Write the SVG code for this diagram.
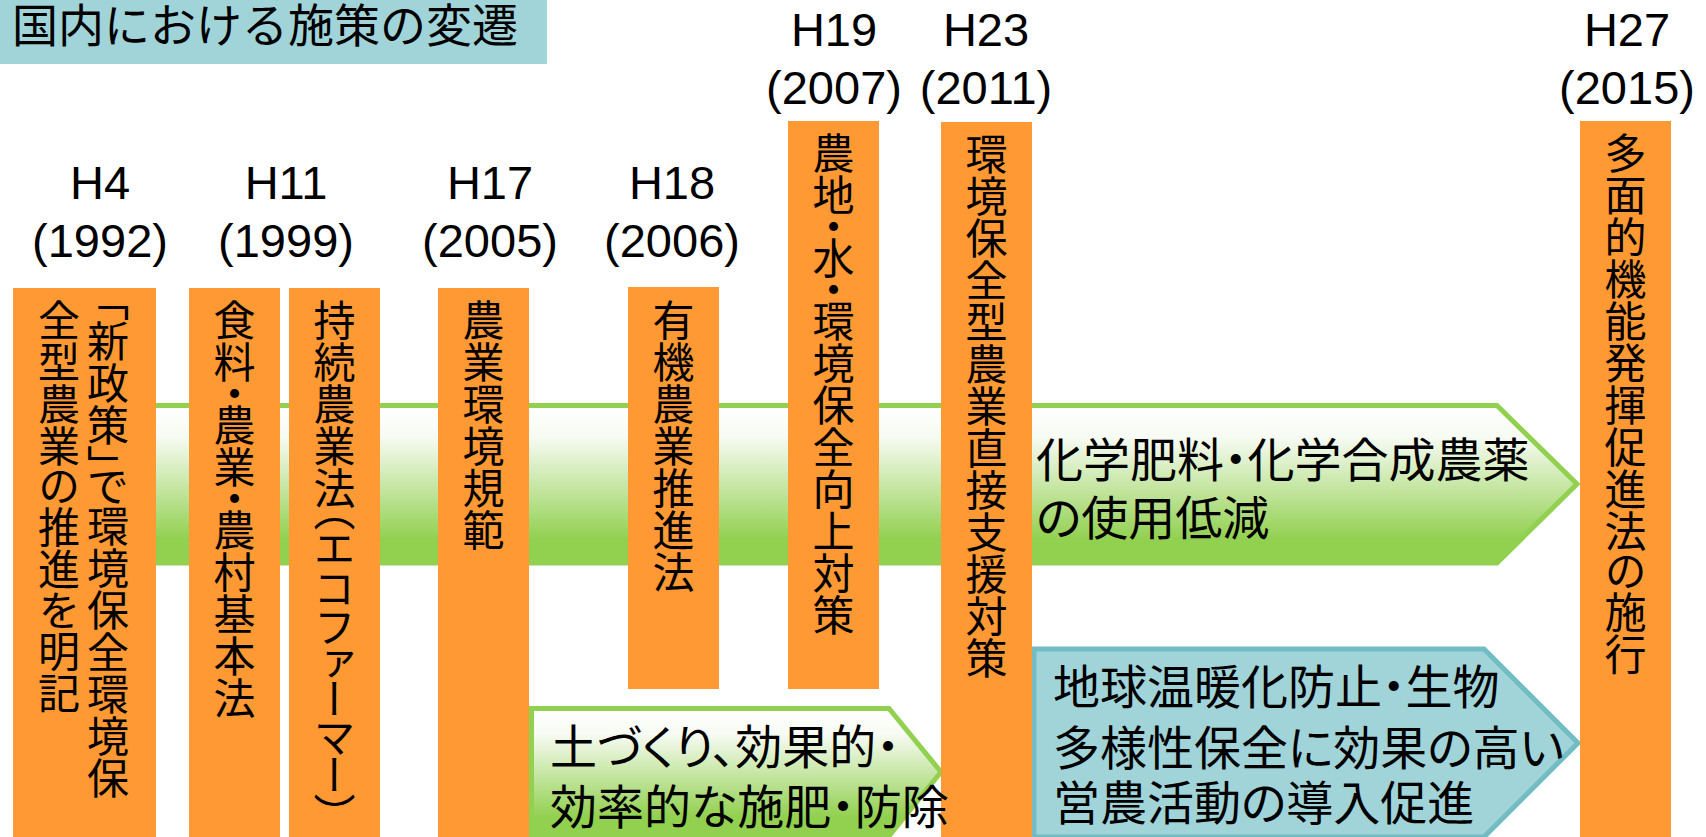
<svg xmlns="http://www.w3.org/2000/svg" width="1706" height="837" viewBox="0 0 1706 837">
<style>
.lbl{font-family:"Liberation Sans",Arial,sans-serif;font-size:47px;fill:#000;text-anchor:middle}
.box{fill:#FF9933}
.vt{font-family:"Noto Sans CJK JP","Noto Sans CJK SC",sans-serif;font-size:42px;fill:#000;writing-mode:vertical-rl;font-feature-settings:"vpal"}
.ht{font-family:"Noto Sans CJK JP","Noto Sans CJK SC",sans-serif;font-size:47px;fill:#000;font-feature-settings:"palt"}
.garrow{fill:url(#gg);stroke:#92D050;stroke-width:5}
.barrow{fill:#A0D4D9;stroke:#72BCC4;stroke-width:5}
</style>
<defs>
<linearGradient id="gg" x1="0" y1="0" x2="0" y2="1">
<stop offset="0" stop-color="#FFFFFF"/>
<stop offset="0.2" stop-color="#F7FBF3"/>
<stop offset="0.85" stop-color="#92D050"/>
<stop offset="1" stop-color="#92D050"/>
</linearGradient>
</defs>
<g id="title">
<rect x="0" y="0" width="547" height="64" fill="#A0D4D9"/>
<text x="12" y="42" style="font-family:'Noto Sans CJK JP','Noto Sans CJK SC',sans-serif;font-size:46px">国内における施策の変遷</text>
</g>
<g id="connectors">
<path id="arrow-reduce" class="garrow" d="M20,405.5 H1497 L1577,484 L1497,563 H20 Z"/>
<path id="arrow-soil" class="garrow" d="M531.5,708.5 H889 L941,772 L889,836 H531.5 Z"/>
<path id="arrow-climate" class="barrow" d="M1034,649 H1484 L1578,743 L1484,837 H1034 Z"/>
</g>
<g id="labels">
<text class="lbl" x="100" y="199">H4</text><text class="lbl" x="100" y="257">(1992)</text>
<text class="lbl" x="286" y="199">H11</text><text class="lbl" x="286" y="257">(1999)</text>
<text class="lbl" x="490" y="199">H17</text><text class="lbl" x="490" y="257">(2005)</text>
<text class="lbl" x="672" y="199">H18</text><text class="lbl" x="672" y="257">(2006)</text>
<text class="lbl" x="834" y="46">H19</text><text class="lbl" x="834" y="104">(2007)</text>
<text class="lbl" x="986" y="46">H23</text><text class="lbl" x="986" y="104">(2011)</text>
<text class="lbl" x="1627" y="46">H27</text><text class="lbl" x="1627" y="104">(2015)</text>
</g>
<g id="n-h4">
<rect class="box" x="13" y="288" width="143" height="549"/>
<text class="vt"><tspan x="108" y="299">「新政策」で環境保全環境保</tspan><tspan x="59" y="299">全型農業の推進を明記</tspan></text>
</g>
<g id="n-h11a">
<rect class="box" x="189" y="288" width="91" height="549"/>
<text class="vt" x="234.5" y="299">食料・農業・農村基本法</text>
</g>
<g id="n-h11b">
<rect class="box" x="289" y="288" width="91" height="549"/>
<text class="vt" x="334.5" y="299">持続農業法（エコファーマー）</text>
</g>
<g id="n-h17">
<rect class="box" x="438" y="288" width="91" height="549"/>
<text class="vt" x="483.5" y="299">農業環境規範</text>
</g>
<g id="n-h18">
<rect class="box" x="628" y="287" width="91" height="402"/>
<text class="vt" x="673.5" y="299">有機農業推進法</text>
</g>
<g id="n-h19">
<rect class="box" x="788" y="121" width="91" height="568"/>
<text class="vt" x="833.5" y="132">農地・水・環境保全向上対策</text>
</g>
<g id="n-h23">
<rect class="box" x="941" y="122" width="91" height="715"/>
<text class="vt" x="986.5" y="133">環境保全型農業直接支援対策</text>
</g>
<g id="n-h27">
<rect class="box" x="1580" y="121" width="91" height="716"/>
<text class="vt" x="1625.5" y="132">多面的機能発揮促進法の施行</text>
</g>
<g id="arrow-texts">
<text class="ht"><tspan x="1036" y="477">化学肥料・化学合成農薬</tspan><tspan x="1036" y="535">の使用低減</tspan></text>
<text class="ht"><tspan x="550" y="764">土づくり、効果的・</tspan><tspan x="550" y="824">効率的な施肥・防除</tspan></text>
<text class="ht"><tspan x="1053" y="704">地球温暖化防止・生物</tspan><tspan x="1053" y="765">多様性保全に効果の高い</tspan><tspan x="1053" y="820">営農活動の導入促進</tspan></text>
</g>
</svg>
